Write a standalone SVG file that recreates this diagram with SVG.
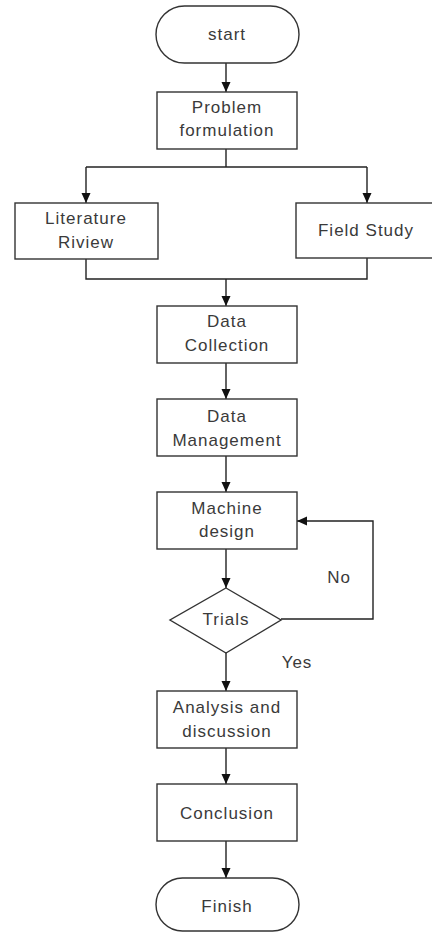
<svg xmlns="http://www.w3.org/2000/svg" width="432" height="933" viewBox="0 0 432 933">
<style>
.n{fill:#fff;stroke:#333;stroke-width:1.4}
.t{font-family:"Liberation Sans",Arial,sans-serif;font-size:17px;fill:#3a3a3a;text-anchor:middle;letter-spacing:1px}
.c{fill:none;stroke:#222;stroke-width:1.4}
</style>
<defs>
<marker id="ah" viewBox="0 0 10 10" refX="10" refY="5" markerWidth="10" markerHeight="10" markerUnits="userSpaceOnUse" orient="auto">
<path d="M0,0.5 L10,5 L0,9.5 Z" fill="#111"/>
</marker>
</defs>
<rect width="432" height="933" fill="#fff"/>
<g id="connectors">
<path class="c" d="M226,63 V92" marker-end="url(#ah)"/>
<path class="c" d="M226,149 V167"/>
<path class="c" d="M86,167 H367"/>
<path class="c" d="M86,167 V203" marker-end="url(#ah)"/>
<path class="c" d="M367,167 V203" marker-end="url(#ah)"/>
<path class="c" d="M86,259 V279 H367 V258"/>
<path class="c" d="M226,279 V306" marker-end="url(#ah)"/>
<path class="c" d="M226,363 V399" marker-end="url(#ah)"/>
<path class="c" d="M226,456 V492" marker-end="url(#ah)"/>
<path class="c" d="M226,549 V588" marker-end="url(#ah)"/>
<path class="c" d="M281,619 H373 V521 H297" marker-end="url(#ah)"/>
<path class="c" d="M226,653 V691" marker-end="url(#ah)"/>
<path class="c" d="M226,748 V784" marker-end="url(#ah)"/>
<path class="c" d="M226,841 V878" marker-end="url(#ah)"/>
<text class="t" x="339" y="583">No</text>
<text class="t" x="297" y="668">Yes</text>
</g>
<g id="start">
<rect class="n" x="156" y="6" width="143" height="57" rx="28.5"/>
<text class="t" x="227" y="40">start</text>
</g>
<g id="problem">
<rect class="n" x="157" y="92" width="140" height="57"/>
<text class="t" x="227" y="113">Problem</text>
<text class="t" x="227" y="136">formulation</text>
</g>
<g id="literature">
<rect class="n" x="15" y="203" width="143" height="56"/>
<text class="t" x="86" y="224">Literature</text>
<text class="t" x="86" y="248">Riview</text>
</g>
<g id="field">
<rect class="n" x="296" y="203" width="142" height="55"/>
<text class="t" x="366" y="236">Field Study</text>
</g>
<g id="collection">
<rect class="n" x="157" y="306" width="140" height="57"/>
<text class="t" x="227" y="327">Data</text>
<text class="t" x="227" y="351">Collection</text>
</g>
<g id="management">
<rect class="n" x="157" y="399" width="140" height="57"/>
<text class="t" x="227" y="422">Data</text>
<text class="t" x="227" y="446">Management</text>
</g>
<g id="machine">
<rect class="n" x="157" y="492" width="140" height="57"/>
<text class="t" x="227" y="514">Machine</text>
<text class="t" x="227" y="537">design</text>
</g>
<g id="trials">
<polygon class="n" points="226,588 281,620 226,653 170,620"/>
<text class="t" x="226" y="625">Trials</text>
</g>
<g id="analysis">
<rect class="n" x="157" y="691" width="140" height="57"/>
<text class="t" x="227" y="713">Analysis and</text>
<text class="t" x="227" y="737">discussion</text>
</g>
<g id="conclusion">
<rect class="n" x="157" y="784" width="140" height="57"/>
<text class="t" x="227" y="819">Conclusion</text>
</g>
<g id="finish">
<rect class="n" x="156" y="878" width="143" height="53" rx="26.5"/>
<text class="t" x="227" y="912">Finish</text>
</g>
</svg>
